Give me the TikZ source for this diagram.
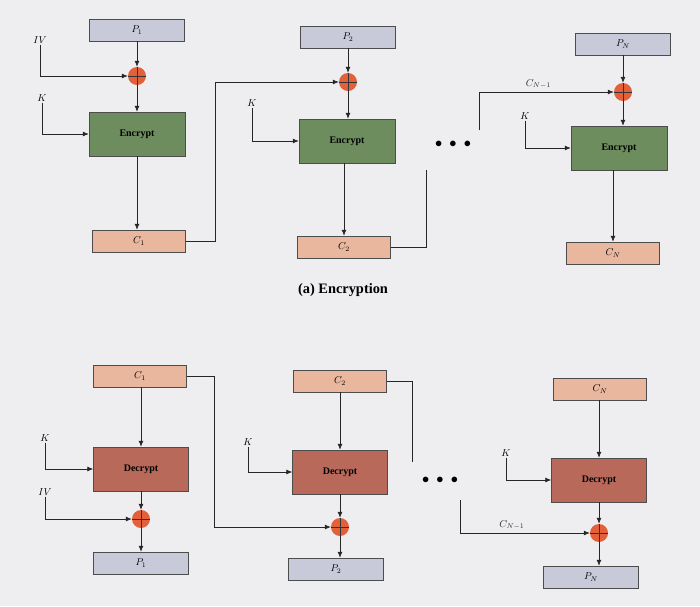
\documentclass[tikz,border=0pt]{standalone}
\usetikzlibrary{arrows.meta}
\usepackage{fontspec}
\setmainfont{Liberation Serif}
\definecolor{pbox}{HTML}{C9CAD9}
\definecolor{cbox}{HTML}{E9B69E}
\definecolor{enc}{HTML}{6E8D5E}
\definecolor{dec}{HTML}{B8695A}
\definecolor{xorc}{HTML}{E2603A}
\definecolor{bg}{HTML}{EEEEF0}
\begin{document}
\begin{tikzpicture}[x=1pt,y=-1pt,
  box/.style={draw=black!70,line width=0.5pt,minimum height=22pt,inner sep=0pt,font=\itshape\normalsize},
  pb/.style={box,fill=pbox,minimum width=95pt},
  cb/.style={box,fill=cbox,minimum width=93pt},
  eb/.style={box,fill=enc,minimum width=96pt,minimum height=44pt,font=\bfseries\normalsize},
  db/.style={box,fill=dec,minimum width=95pt,minimum height=44pt,font=\bfseries\normalsize},
  xo/.style={circle,fill=xorc,minimum size=18pt,inner sep=0pt,path picture={
     \draw[black!80,line width=0.8pt] (path picture bounding box.north)--(path picture bounding box.south)
     (path picture bounding box.west)--(path picture bounding box.east);}},
  lab/.style={font=\itshape\normalsize,inner sep=1pt},
  ar/.style={-{Latex[length=6pt,width=5pt]},line width=0.7pt,black!85},
  ln/.style={line width=0.7pt,black!85},
  dts/.style={font=\Large\bfseries}]
\fill[bg] (0,0) rectangle (700,606);
\useasboundingbox (0,0) rectangle (700,606);
% ---------- Encryption
\node[pb] (p1) at (137,30) {$P_1$};
\node[xo] (x1) at (137,76) {};
\node[eb] (e1) at (137,134) {Encrypt};
\node[cb] (c1) at (139,241) {$C_1$};
\node[lab] (iv1) at (40,40) {$IV$};
\node[lab] (k1) at (42,98) {$K$};
\draw[ar] (p1) -- (x1);
\draw[ar] (iv1.south) |- (x1);
\draw[ar] (x1) -- (e1);
\draw[ar] (k1.south) |- (e1);
\draw[ar] (e1) -- (e1.south |- c1.north);

\node[pb] (p2) at (348,37) {$P_2$};
\node[xo] (x2) at (348,82) {};
\node[eb] (e2) at (347,141) {Encrypt};
\node[cb] (c2) at (344,247) {$C_2$};
\node[lab] (k2) at (252,103) {$K$};
\draw[ar] (p2) -- (x2);
\draw[ar] (c1.east) -- ++(30,0) |- (x2);
\draw[ar] (x2) -- (x2 |- e2.north);
\draw[ar] (k2.south) |- (e2);
\draw[ar] (e2.south -| c2) -- (c2);
\coordinate (ea) at (426,170);
\draw[ln] (c2.east) -| (ea);
\node[dts] (dots1) at (453,144) {$\bullet\;\bullet\;\bullet$};

\node[pb] (pn) at (623,44) {$P_N$};
\node[xo] (xn) at (623,92) {};
\node[eb] (en) at (619,148) {Encrypt};
\node[cb] (cn) at (613,253) {$C_N$};
\node[lab] (kn) at (525,116) {$K$};
\coordinate (eb1) at (479,130);
\draw[ar] (eb1) |- (xn) node[pos=0.72,above=2pt,lab] (cnm) {$C_{N-1}$};
\draw[ar] (pn) -- (xn);
\draw[ar] (xn) -- (xn |- en.north);
\draw[ar] (kn.south) |- (en);
\draw[ar] (en.south -| cn) -- (cn);
\node[font=\bfseries\Large] (capA) at (343,290) {(a) Encryption};
% ---------- Decryption
\node[cb] (dc1) at (140,376) {$C_1$};
\node[db] (d1) at (141,469) {Decrypt};
\node[xo] (dx1) at (141,519) {};
\node[pb] (dp1) at (141,563) {$P_1$};
\node[lab] (dk1) at (45,438) {$K$};
\node[lab] (div1) at (45,492) {$IV$};
\draw[ar] (dc1.south -| d1) -- (d1);
\draw[ar] (dk1.south) |- (d1);
\draw[ar] (d1) -- (dx1);
\draw[ar] (div1.south) |- (dx1);
\draw[ar] (dx1) -- (dp1);

\node[cb] (dc2) at (340,381) {$C_2$};
\node[db] (d2) at (340,472) {Decrypt};
\node[xo] (dx2) at (340,527) {};
\node[pb] (dp2) at (336,569) {$P_2$};
\node[lab] (dk2) at (248,442) {$K$};
\draw[ar] (dc2) -- (d2);
\draw[ar] (dk2.south) |- (d2);
\draw[ar] (d2) -- (dx2);
\draw[ar] (dc1.east) -- ++(28,0) |- (dx2);
\draw[ar] (dx2) -- (dx2 |- dp2.north);
\coordinate (da) at (412,462);
\draw[ln] (dc2.east) -| (da);
\node[dts] (dots2) at (440,480) {$\bullet\;\bullet\;\bullet$};

\node[cb] (dcn) at (600,389) {$C_N$};
\node[db] (dn) at (599,480) {Decrypt};
\node[xo] (dxn) at (599,533) {};
\node[pb] (dpn) at (591,577) {$P_N$};
\node[lab] (dkn) at (506,453) {$K$};
\coordinate (db1) at (460,500);
\draw[ar] (db1) |- (dxn) node[pos=0.7,above=2pt,lab] (dcnm) {$C_{N-1}$};
\draw[ar] (dcn.south -| dn) -- (dn);
\draw[ar] (dkn.south) |- (dn);
\draw[ar] (dn) -- (dxn);
\draw[ar] (dxn) -- (dxn |- dpn.north);
\end{tikzpicture}
\end{document}
